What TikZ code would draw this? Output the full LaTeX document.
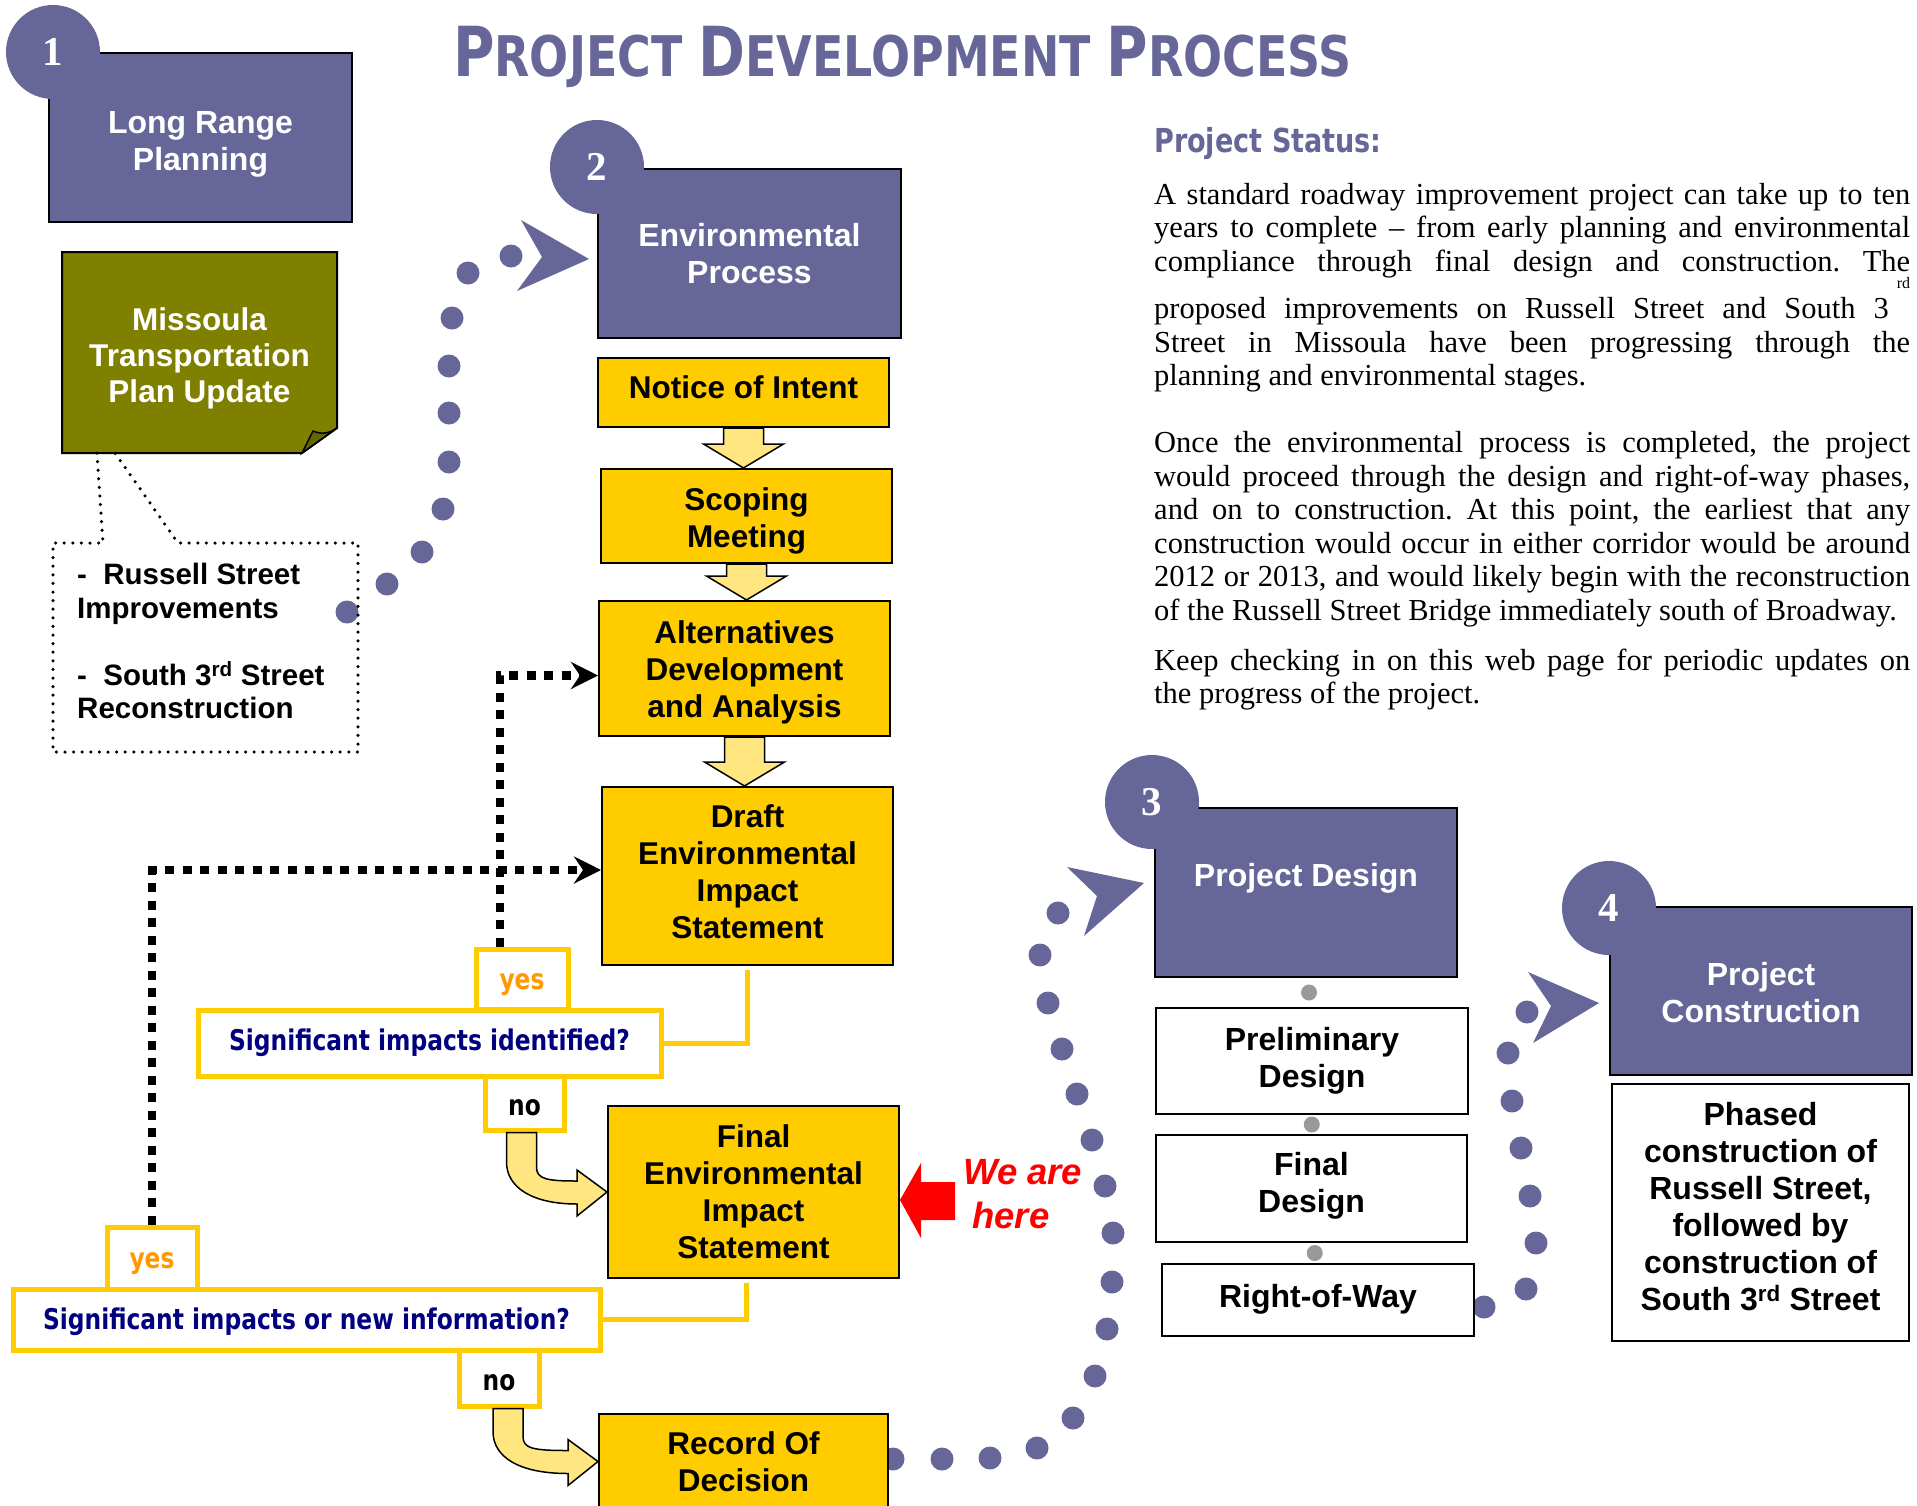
\documentclass[tikz,border=0pt]{standalone}
\usepackage{fontspec}
\setmainfont{Liberation Sans}
\newfontfamily\serifface{Liberation Serif}
\newfontfamily\tahomaface[FakeStretch=0.82]{DejaVu Sans}
\usetikzlibrary{calc,arrows.meta}

\definecolor{stagepurple}{HTML}{666699}
\definecolor{mtpgreen}{HTML}{808000}
\definecolor{mtpfold}{HTML}{666600}
\definecolor{stepyellow}{HTML}{FFCC00}
\definecolor{arrowyellow}{HTML}{FFE680}
\definecolor{qnavy}{HTML}{000080}
\definecolor{yesorange}{HTML}{FF9900}
\definecolor{linkgray}{HTML}{999999}

\newcommand\fsz[2]{\fontsize{#1}{#2}\selectfont}
\newcommand\jline[1]{\makebox[756pt][s]{#1}}

\tikzset{
  stagebox/.style={draw=black, line width=2pt, fill=stagepurple, text=white, align=center, inner sep=0pt, font=\bfseries\fsz{32}{37}},
  stepbox/.style={draw=black, line width=2pt, fill=stepyellow, align=center, inner sep=0pt, font=\bfseries\fsz{31.5}{37}},
  designbox/.style={draw=black, line width=2pt, fill=white, align=center, inner sep=0pt, font=\bfseries\fsz{32}{37}},
  numcirc/.style={circle, fill=stagepurple, text=white, minimum size=94pt, inner sep=0pt, font=\serifface\bfseries\fsz{41}{41}},
  qbox/.style={draw=stepyellow, line width=5pt, fill=white, text=qnavy, inner sep=0pt, font=\tahomaface\bfseries\fsz{28.5}{30}},
  ansbox/.style={qbox, text=black, text height=24pt, text depth=0pt},
  flowline/.style={draw=stepyellow, line width=5pt},
  loopback/.style={line width=8.5pt, dash pattern=on 9pt off 8.5pt, -{Stealth[length=27pt,width=27pt,inset=9pt]}},
  blockarrow/.style={fill=arrowyellow, draw=black, line width=1.5pt},
  dotchain/.style={fill=stagepurple},
  calloutline/.style={line width=3.5pt, line cap=round, dash pattern=on 0pt off 8.6pt}
}

\newcommand\stepdown[2]{%
  \filldraw[blockarrow] let \p1=(#1.south), \p2=(#2.north) in
    (\x1-20pt,\y1) -- (\x1+20pt,\y1) -- (\x1+20pt,\y2+24pt) -- (\x1+40pt,\y2+24pt)
    -- (\x1,\y2) -- (\x1-40pt,\y2+24pt) -- (\x1-20pt,\y2+24pt) -- cycle;}

\newcommand\stepbend[3]{%
  \filldraw[blockarrow] let \p1=($(#1.south)+(#3,0)$), \p2=(#2.west) in
    (\x1-15pt,\y1) -- (\x1+15pt,\y1) -- (\x1+15pt,\y2+25pt)
    .. controls (\x1+15pt,\y2+13pt) and (\x1+25pt,\y2+11pt) .. (\x2-30pt,\y2+11pt)
    -- (\x2-30pt,\y2+22pt) -- (\x2,\y2) -- (\x2-30pt,\y2-24pt) -- (\x2-30pt,\y2-12pt)
    .. controls (\x1+10pt,\y2-12pt) and (\x1-15pt,\y2+5pt) .. (\x1-15pt,\y2+30pt) -- cycle;}

\begin{document}
\begin{tikzpicture}[x=1pt,y=-1pt]
  \useasboundingbox (0,0) rectangle (1917,1505);
  \fill[white] (0,0) rectangle (1917,1505);

  \foreach \x/\y in {347/612,387/584,422/552,443/509,449/462,449/413,449/366,452/318,468/273,511/256}
    \fill[dotchain] (\x,\y) circle (11.5pt);
  \fill[dotchain] (521,220) -- (589,259) -- (517,291) -- (542,257) -- cycle;
  \foreach \x/\y in {893/1459,942/1459,990/1458,1037/1448,1073/1418,1095/1376,1107/1329,1112/1282,1113/1233,1105/1186,1092/1140,1077/1094,1062/1049,1048/1003,1040/955,1058/913}
    \fill[dotchain] (\x,\y) circle (11.5pt);
  \fill[dotchain] (1067,867) -- (1144,883) -- (1084,936) -- (1097,896) -- cycle;
  \foreach \x/\y in {1484/1307,1526/1289,1536/1243,1530/1196,1521/1148,1512/1101,1508/1053,1527/1012}
    \fill[dotchain] (\x,\y) circle (11.5pt);
  \fill[dotchain] (1528,972) -- (1599,1003) -- (1533,1043) -- (1551,1006) -- cycle;

  \node[stagebox, minimum width=303pt, minimum height=169pt, text height=72pt] (lrp) at (200.5,137.5) {Long Range\\Planning};
  \node[numcirc] (n1) at (53,52) {1};

  \filldraw[fill=mtpgreen, line width=2pt] (62,252) -- (337,252) -- (337,428) -- (302,453) -- (62,453) -- cycle;
  \filldraw[fill=mtpfold, line width=1.5pt] (302,453) -- (313,431) .. controls (322,435) and (330,433) .. (337,428) -- cycle;
  \node[text=white, align=center, font=\bfseries\fsz{31.5}{36}] (mtp) at (199.5,358) {Missoula\\Transportation\\Plan Update};

  \draw[calloutline] (97,453) -- (103,543) -- (53,543) -- (53,752) -- (358,752) -- (358,543) -- (178,543) -- (115,453);
  \node[anchor=north west, align=left, inner sep=0pt, font=\bfseries\fsz{29.5}{33.5}] (call) at (77,563)
    {-~~Russell Street\\Improvements\\[33.5pt]-~~South 3\textsuperscript{rd} Street\\Reconstruction};

  \node[stagebox, minimum width=303pt, minimum height=169pt] (env) at (749.5,253.5) {Environmental\\Process};
  \node[numcirc] (n2) at (597,167) {2};

  \node[stepbox, minimum width=291pt, minimum height=69pt, text depth=10pt] (noi) at (743.5,392.5) {Notice of Intent};
  \node[stepbox, minimum width=291pt, minimum height=94pt, text height=70pt] (scop) at (746.5,516) {Scoping\\Meeting};
  \node[stepbox, minimum width=291pt, minimum height=135pt, text height=104.5pt] (alt) at (744.5,668.5) {Alternatives\\Development\\and Analysis};
  \node[stepbox, minimum width=291pt, minimum height=178pt, text depth=8pt] (deis) at (747.5,876) {Draft\\Environmental\\Impact\\Statement};
  \node[stepbox, minimum width=291pt, minimum height=172pt] (feis) at (753.5,1192) {Final\\Environmental\\Impact\\Statement};
  \node[stepbox, minimum width=289pt, minimum height=95pt] (rod) at (743.5,1461.5) {Record Of\\Decision};
  \stepdown{noi}{scop}
  \stepdown{scop}{alt}
  \stepdown{alt}{deis}

  \node[qbox, minimum width=463pt, minimum height=66pt] (q1) at (429.5,1043) {Significant impacts identified?};
  \node[ansbox, text=yesorange, minimum width=92pt, minimum height=60pt, text height=21pt] (yes1) at (522,979) {yes};
  \node[ansbox, minimum width=79pt, minimum height=54pt] (no1) at (524.5,1103) {no};
  \node[qbox, minimum width=587pt, minimum height=61pt, text height=26pt] (q2) at (306.5,1319.5) {Significant impacts or new information?};
  \node[ansbox, text=yesorange, minimum width=90pt, minimum height=62pt, text height=21pt] (yes2) at (152,1258) {yes};
  \node[ansbox, minimum width=80pt, minimum height=56pt] (no2) at (499,1378) {no};

  \draw[flowline, shorten <=4pt] (deis.south) |- (q1.east);
  \draw[flowline, shorten <=4pt] ([xshift=-7pt]feis.south) |- (q2.east);
  \draw[loopback] ([xshift=-22pt]yes1.north) |- ([yshift=-7pt]alt.west);
  \draw[loopback] (yes2.north) |- ([yshift=6pt]deis.west);
  \stepbend{no1}{feis}{-3}
  \stepbend{no2}{rod}{9}

  \fill[red] ([yshift=-8pt]feis.east) -- ++(21pt,37pt) -- ++(0pt,-19pt) -- ++(34pt,0pt) -- ++(0pt,-38pt) -- ++(-34pt,0pt) -- ++(0pt,-18pt) -- cycle;
  \node[anchor=west, align=left, text=red, inner sep=0pt, font=\bfseries\itshape\fsz{36.5}{44}] (here) at (963,1194) {We are\\\hspace*{9pt}here};

  \node[stagebox, minimum width=302pt, minimum height=169pt, text depth=36pt] (des) at (1306,892.5) {Project Design};
  \node[numcirc] (n3) at (1152,802) {3};
  \node[designbox, minimum width=312pt, minimum height=106pt] (pre) at (1312,1061) {Preliminary\\Design};
  \node[designbox, minimum width=311pt, minimum height=107pt, text depth=13pt] (fin) at (1311.5,1188.5) {Final\\Design};
  \node[designbox, minimum width=312pt, minimum height=72pt, text depth=9pt] (row) at (1318,1300) {Right-of-Way};
  \foreach \a/\b in {des/pre,pre/fin,fin/row}
    \fill[linkgray] ($(\a.south)!0.5!(\b.north)$) circle (8pt);

  \node[stagebox, minimum width=302pt, minimum height=168pt, text height=64pt] (con) at (1761,991) {Project\\Construction};
  \node[numcirc] (n4) at (1609,908) {4};
  \node[designbox, minimum width=297pt, minimum height=257pt, text depth=12pt] (pha) at (1760.5,1212.5)
    {Phased\\construction of\\Russell Street,\\followed by\\construction of\\South 3\textsuperscript{rd} Street};

  \node[anchor=base, inner sep=0pt, text=stagepurple, font=\tahomaface\bfseries] (title) at (902.5,76)
    {{\fsz{69}{69}P}{\fsz{56}{56}ROJECT }{\fsz{69}{69}D}{\fsz{56}{56}EVELOPMENT }{\fsz{69}{69}P}{\fsz{56}{56}ROCESS}};
  \node[anchor=base west, inner sep=0pt, text=stagepurple, font=\tahomaface\bfseries\fsz{33}{36}] (status) at (1154,152) {Project Status:};
  \node[anchor=north west, inner sep=0pt, align=left, font=\serifface\frenchspacing\fsz{30.5}{33.5}] (body) at (1154,183) {%
    \jline{A standard roadway improvement project can take up to ten}\\
    \jline{years to complete – from early planning and environmental}\\
    \jline{compliance through final design and construction. The}\\[14pt]
    \jline{proposed improvements on Russell Street and South 3\hspace{8pt}\smash{\raisebox{30pt}{\fsz{16}{16}rd}}}\\
    \jline{Street in Missoula have been progressing through the}\\
    planning and environmental stages.\\[33.5pt]
    \jline{Once the environmental process is completed, the project}\\
    \jline{would proceed through the design and right-of-way phases,}\\
    \jline{and on to construction. At this point, the earliest that any}\\
    \jline{construction would occur in either corridor would be around}\\
    \jline{2012 or 2013, and would likely begin with the reconstruction}\\
    of the Russell Street Bridge immediately south of Broadway.\\[16.5pt]
    \jline{Keep checking in on this web page for periodic updates on}\\
    the progress of the project.};
\end{tikzpicture}
\end{document}
